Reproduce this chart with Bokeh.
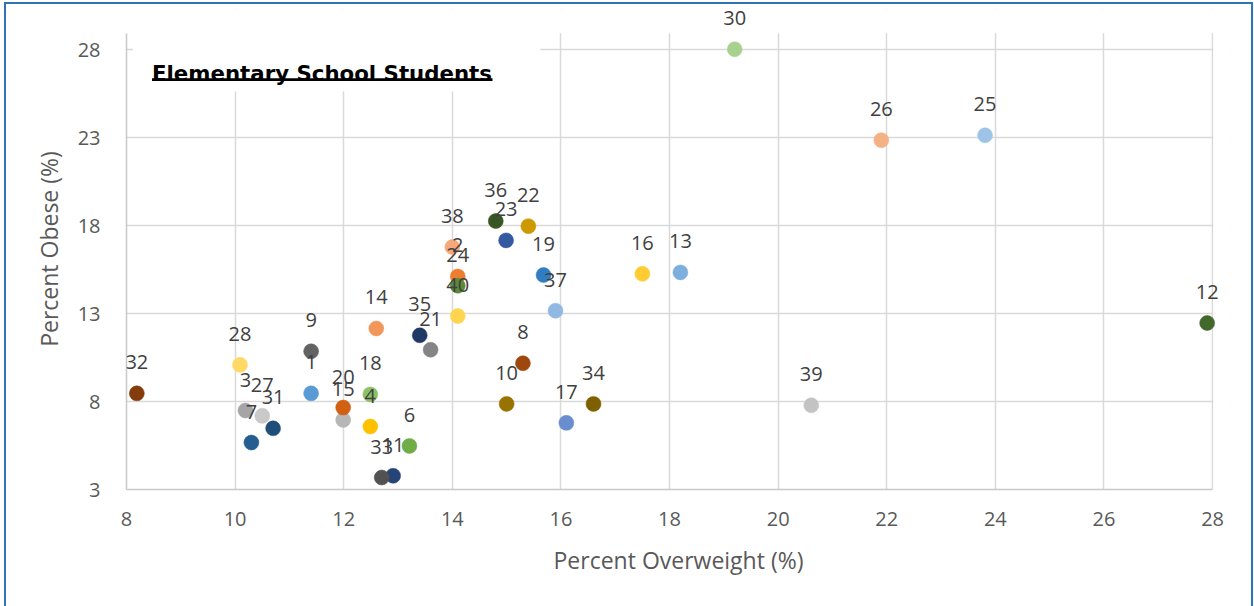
from bokeh.plotting import figure
from bokeh.models import (Range1d, FixedTicker, BoxAnnotation, Label, LabelSet,
                          ColumnDataSource, InlineStyleSheet)
from bokeh.core.properties import value
from bokeh.embed import file_html
from bokeh.resources import INLINE

# ---- data ----
schools = [1, 2, 3, 4, 6, 7, 8, 9, 10, 11, 12, 13, 14, 15, 16, 17, 18, 19, 20,
           21, 22, 23, 24, 25, 26, 27, 28, 30, 31, 32, 33, 34, 35, 36, 37, 38, 39, 40]
overweight = [11.40, 14.10, 10.19, 12.49, 13.21, 10.30, 15.30, 11.40, 15.00, 12.91,
              27.90, 18.20, 12.60, 11.99, 17.50, 16.10, 12.49, 15.68, 11.99,
              13.60, 15.40, 14.99, 14.10, 23.81, 21.90, 10.50, 10.09, 19.20, 10.70,
              8.19, 12.70, 16.60, 13.40, 14.80, 15.90, 14.00, 20.61, 14.10]
obese = [8.47, 15.12, 7.49, 6.58, 5.48, 5.67, 10.18, 10.86, 7.87, 3.78,
         12.47, 15.35, 12.16, 6.96, 15.27, 6.79, 8.41, 15.20, 7.66,
         10.95, 17.98, 17.17, 14.59, 23.15, 22.87, 7.19, 10.09, 28.04, 6.48,
         8.47, 3.68, 7.87, 11.77, 18.27, 13.17, 16.79, 7.79, 12.87]
x_ticks = [8, 10, 12, 14, 16, 18, 20, 22, 24, 26, 28]
y_ticks = [3, 8, 13, 18, 23, 28]
x_axis_span = (8, 28)
y_axis_span = (3, 28.95)

palette = {
    1: "#5B9BD5", 2: "#ED7D31", 3: "#A5A5A5", 4: "#FFC000", 6: "#70AD47",
    7: "#255E91", 8: "#9E480E", 9: "#636363", 10: "#997300", 11: "#264478",
    12: "#43682B", 13: "#7CAFDD", 14: "#F1975A", 15: "#B7B7B7", 16: "#FFCD33",
    17: "#698ED0", 18: "#8CC168", 19: "#327DC2", 20: "#D26012", 21: "#848484",
    22: "#CC9A00", 23: "#335AA1", 24: "#5A8A39", 25: "#9DC3E6", 26: "#F4B183",
    27: "#C9C9C9", 28: "#FFD966", 30: "#A9D18E", 31: "#1F4E79", 32: "#843C0C",
    33: "#525252", 34: "#7F6000", 35: "#203864", 36: "#375623", 37: "#8FB8E2",
    38: "#F5A97A", 39: "#C3C3C3", 40: "#FFD54F",
}

src = ColumnDataSource(dict(
    x=overweight, y=obese,
    label=[str(s) for s in schools],
    color=[palette[s] for s in schools],
))

# frame is a little larger than the axis spans so that the labels are not clipped
p = figure(width=1254, height=606, output_backend="svg", toolbar_location=None,
           x_range=Range1d(8, 28.33), y_range=Range1d(3, 30.36),
           min_border_left=126, min_border_right=24, min_border_top=8,
           min_border_bottom=117)
p.outline_line_color = None
p.background_fill_color = "white"
p.border_fill_color = None
p.stylesheets = [InlineStyleSheet(css=(
    ":host { background: "
    "linear-gradient(#2E75B6,#2E75B6) left 4px top 2px / 2px 100% no-repeat, "
    "linear-gradient(#2E75B6,#2E75B6) left 4px top 2px / calc(100% - 6px) 2px no-repeat, "
    "linear-gradient(#2E75B6,#2E75B6) right 1px top 2px / 2px 100% no-repeat, "
    "white; }"))]

for ax in (p.xaxis[0], p.yaxis[0]):
    ax.axis_line_color = "#C8C8C8"
    ax.axis_line_width = 1.5
    ax.major_tick_line_color = None
    ax.minor_tick_line_color = None
    ax.major_label_text_font = "Open Sans"
    ax.major_label_text_font_size = "20px"
    ax.major_label_text_color = "#595959"
    ax.axis_label_text_font = "Open Sans"
    ax.axis_label_text_font_size = "23px"
    ax.axis_label_text_font_style = "normal"
    ax.axis_label_text_color = "#595959"

p.xaxis.ticker = FixedTicker(ticks=x_ticks)
p.yaxis.ticker = FixedTicker(ticks=y_ticks)
p.xaxis.bounds = x_axis_span
p.yaxis.bounds = y_axis_span
p.xaxis.axis_label = "Percent Overweight (%)"
p.yaxis.axis_label = "Percent Obese (%)"
p.xaxis.major_label_standoff = 16
p.xaxis.axis_label_standoff = 15
p.yaxis.major_label_standoff = 20
p.yaxis.axis_label_standoff = 10

p.xgrid.ticker = FixedTicker(ticks=x_ticks)
p.ygrid.ticker = FixedTicker(ticks=y_ticks)
for g in (p.xgrid[0], p.ygrid[0]):
    g.grid_line_color = "#D9D9D9"
    g.grid_line_width = 1.5

# hide grid outside the plot area (above the top and right of x=28)
p.add_layout(BoxAnnotation(bottom=y_axis_span[1], fill_color="white", fill_alpha=1.0,
                           line_color=None, level="underlay"))
p.add_layout(BoxAnnotation(left=x_axis_span[1] + 0.015, fill_color="white", fill_alpha=1.0,
                           line_color=None, level="underlay"))
# title block (white box over the grid)
p.add_layout(BoxAnnotation(left=8.12, right=15.62, top=29.5, bottom=25.64,
                           fill_color="white", fill_alpha=1.0, line_color=None,
                           level="underlay"))

p.scatter("x", "y", source=src, size=15, fill_color="color", line_color="color",
          line_width=0.5)
p.add_layout(LabelSet(x="x", y="y", text="label", source=src, y_offset=31,
                      text_align="center", text_baseline="middle",
                      text_font=value("Open Sans"), text_font_size=value("20px"),
                      text_color="#404040"))

p.add_layout(Label(x=8.47, y=26.68, text="Elementary School Students",
                   text_font="DejaVu Sans", text_font_style="bold",
                   text_font_size="21.3px", text_color="black",
                   text_baseline="alphabetic"))
p.add_layout(BoxAnnotation(left=8.47, right=14.74, top=26.39, bottom=26.24,
                           fill_color="black", fill_alpha=1.0, line_color=None))

open("out.html", "w").write(file_html(p, INLINE))
